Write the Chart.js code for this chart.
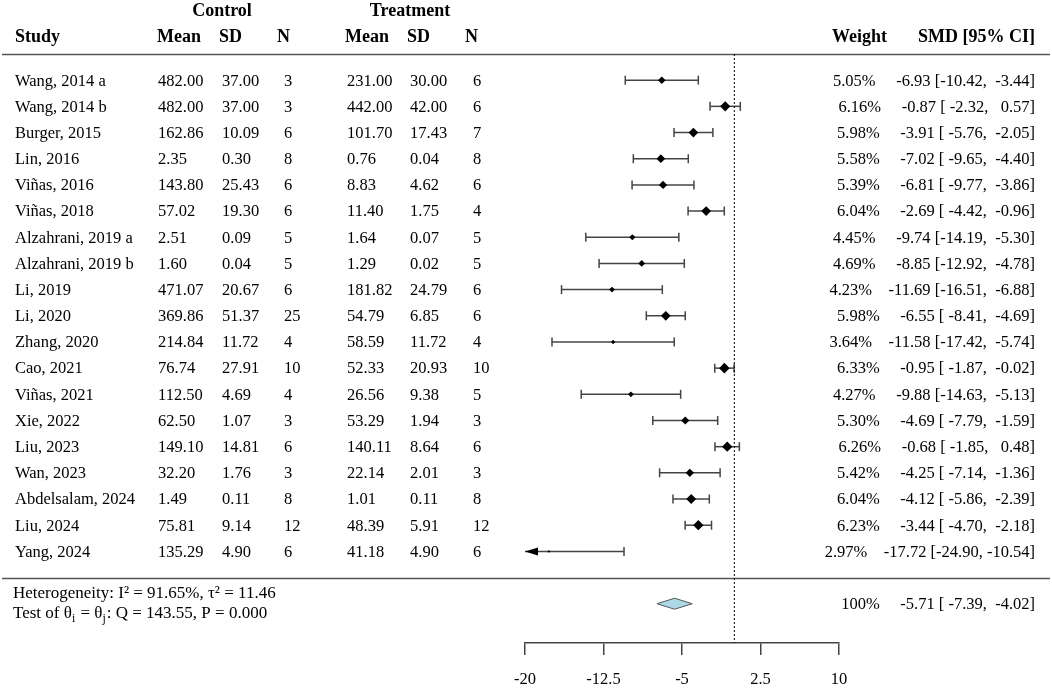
<!DOCTYPE html>
<html>
<head>
<meta charset="utf-8">
<script src="https://cdn.jsdelivr.net/npm/chart.js@4.4.1/dist/chart.umd.min.js"></script>
<style>
  html, body { margin: 0; padding: 0; background: #fff; }
  #wrap { width: 1052px; height: 689px; }
</style>
</head>
<body>
<div id="wrap"><canvas id="forest" width="1052" height="689"></canvas></div>
<script>
// Study table
const studies = ['Wang, 2014 a','Wang, 2014 b','Burger, 2015','Lin, 2016','Viñas, 2016','Viñas, 2018',
  'Alzahrani, 2019 a','Alzahrani, 2019 b','Li, 2019','Li, 2020','Zhang, 2020','Cao, 2021','Viñas, 2021',
  'Xie, 2022','Liu, 2023','Wan, 2023','Abdelsalam, 2024','Liu, 2024','Yang, 2024'];
const ctrlMean = [482.00,482.00,162.86,2.35,143.80,57.02,2.51,1.60,471.07,369.86,214.84,76.74,112.50,62.50,149.10,32.20,1.49,75.81,135.29];
const ctrlSD   = [37.00,37.00,10.09,0.30,25.43,19.30,0.09,0.04,20.67,51.37,11.72,27.91,4.69,1.07,14.81,1.76,0.11,9.14,4.90];
const ctrlN    = [3,3,6,8,6,6,5,5,6,25,4,10,4,3,6,3,8,12,6];
const trtMean  = [231.00,442.00,101.70,0.76,8.83,11.40,1.64,1.29,181.82,54.79,58.59,52.33,26.56,53.29,140.11,22.14,1.01,48.39,41.18];
const trtSD    = [30.00,42.00,17.43,0.04,4.62,1.75,0.07,0.02,24.79,6.85,11.72,20.93,9.38,1.94,8.64,2.01,0.11,5.91,4.90];
const trtN     = [6,6,7,8,6,4,5,5,6,6,4,10,5,3,6,3,8,12,6];
const weights  = [5.05,6.16,5.98,5.58,5.39,6.04,4.45,4.69,4.23,5.98,3.64,6.33,4.27,5.30,6.26,5.42,6.04,6.23,2.97];
const smd      = [-6.93,-0.87,-3.91,-7.02,-6.81,-2.69,-9.74,-8.85,-11.69,-6.55,-11.58,-0.95,-9.88,-4.69,-0.68,-4.25,-4.12,-3.44,-17.72];
const ciLow    = [-10.42,-2.32,-5.76,-9.65,-9.77,-4.42,-14.19,-12.92,-16.51,-8.41,-17.42,-1.87,-14.63,-7.79,-1.85,-7.14,-5.86,-4.70,-24.90];
const ciHigh   = [-3.44,0.57,-2.05,-4.40,-3.86,-0.96,-5.30,-4.78,-6.88,-4.69,-5.74,-0.02,-5.13,-1.59,0.48,-1.36,-2.39,-2.18,-10.54];

// pooled estimate
const overallSmd = -5.71;
const overallLow = -7.39;
const overallHigh = -4.02;

const tickValues = [-20, -12.5, -5, 2.5, 10];

const SERIF = '"Liberation Serif", "Times New Roman", serif';
const SUMMARY_ROW = 20;

const pad = (s, n) => s.padStart(n, ' ');
function rightText(w, e, lo, hi) {
  return w + '    ' + pad(e.toFixed(2), 6) + ' [' + pad(lo.toFixed(2), 6) + ', ' + pad(hi.toFixed(2), 6) + ']';
}

// bars, caps, arrow for clipped intervals, pooled diamond, rules
const forestPlugin = {
  id: 'forest',
  beforeDatasetsDraw(chart) {
    const { ctx, scales: { x, y } } = chart;
    ctx.save();
    // horizontal rules
    ctx.strokeStyle = '#555';
    ctx.lineWidth = 1.6;
    [ -1, studies.length ].forEach(v => {
      const py = Math.round(y.getPixelForValue(v)) + 0.5;
      ctx.beginPath(); ctx.moveTo(2, py); ctx.lineTo(1050, py); ctx.stroke();
    });

    ctx.strokeStyle = '#444';
    ctx.fillStyle = '#000';
    ctx.lineWidth = 1.5;
    studies.forEach((s, i) => {
      const py = y.getPixelForValue(i);
      const clipped = ciLow[i] < x.min;
      const x1 = x.getPixelForValue(Math.max(ciLow[i], x.min));
      const x2 = x.getPixelForValue(ciHigh[i]);
      ctx.beginPath(); ctx.moveTo(x1, py); ctx.lineTo(x2, py); ctx.stroke();
      ctx.beginPath(); ctx.moveTo(x2, py - 4.5); ctx.lineTo(x2, py + 4.5); ctx.stroke();
      if (clipped) {
        ctx.beginPath();
        ctx.moveTo(x1, py); ctx.lineTo(x1 + 13, py - 4); ctx.lineTo(x1 + 13, py + 4); ctx.closePath();
        ctx.fill();
      } else {
        ctx.beginPath(); ctx.moveTo(x1, py - 4.5); ctx.lineTo(x1, py + 4.5); ctx.stroke();
      }
    });

    // pooled diamond
    const sy = y.getPixelForValue(SUMMARY_ROW);
    ctx.beginPath();
    ctx.moveTo(x.getPixelForValue(overallLow), sy);
    ctx.lineTo(x.getPixelForValue(overallSmd), sy - 5.5);
    ctx.lineTo(x.getPixelForValue(overallHigh), sy);
    ctx.lineTo(x.getPixelForValue(overallSmd), sy + 5.5);
    ctx.closePath();
    ctx.fillStyle = '#add8e6';
    ctx.fill();
    ctx.strokeStyle = '#555';
    ctx.lineWidth = 1;
    ctx.stroke();
    ctx.restore();
  },
  afterDraw(chart) {
    const { ctx, scales: { y } } = chart;
    ctx.save();
    ctx.fillStyle = '#000';
    ctx.textBaseline = 'middle';

    // headers
    ctx.font = 'bold 18px ' + SERIF;
    ctx.textAlign = 'center';
    ctx.fillText('Control', 222, 11);
    ctx.fillText('Treatment', 410, 11);
    ctx.textAlign = 'left';
    ctx.fillText('Study', 15, 37);
    ctx.fillText('Mean', 157, 37);
    ctx.fillText('SD', 219, 37);
    ctx.fillText('N', 277, 37);
    ctx.fillText('Mean', 345, 37);
    ctx.fillText('SD', 407, 37);
    ctx.fillText('N', 465, 37);
    ctx.textAlign = 'right';
    ctx.fillText('Weight', 887, 37);
    ctx.fillText('SMD [95% CI]', 1035, 37);

    // rows
    ctx.font = '16.5px ' + SERIF;
    studies.forEach((s, i) => {
      const py = y.getPixelForValue(i) + 1;
      ctx.textAlign = 'left';
      ctx.fillText(s, 15, py);
      ctx.fillText(ctrlMean[i].toFixed(2), 158, py);
      ctx.fillText(ctrlSD[i].toFixed(2), 222, py);
      ctx.fillText(String(ctrlN[i]), 284, py);
      ctx.fillText(trtMean[i].toFixed(2), 347, py);
      ctx.fillText(trtSD[i].toFixed(2), 410, py);
      ctx.fillText(String(trtN[i]), 473, py);
      ctx.textAlign = 'right';
      ctx.fillText(rightText(weights[i].toFixed(2) + '%', smd[i], ciLow[i], ciHigh[i]), 1035, py);
    });
    const sy = y.getPixelForValue(SUMMARY_ROW) + 1;
    ctx.fillText(rightText('100%', overallSmd, overallLow, overallHigh), 1035, sy);

    // heterogeneity notes
    ctx.textAlign = 'left';
    ctx.font = '17px ' + SERIF;
    ctx.fillText('Heterogeneity: I² = 91.65%, τ² = 11.46', 13, 594);
    let px = 13;
    const ty = 614;
    const parts = [['Test of θ', 0], ['i', 1], [' = θ', 0], ['j', 1], [': Q = 143.55, P = 0.000', 0]];
    parts.forEach(([t, sub]) => {
      ctx.font = (sub ? '12px ' : '17px ') + SERIF;
      ctx.fillText(t, px, ty + (sub ? 5 : 0));
      px += ctx.measureText(t).width + (sub ? 1 : 0);
    });
    ctx.restore();
  }
};

const ctx = document.getElementById('forest').getContext('2d');
new Chart(ctx, {
  type: 'scatter',
  data: {
    datasets: [
      {
        // line of no effect
        type: 'line',
        data: [{ x: 0, y: -1 }, { x: 0, y: 21.5 }],
        borderColor: '#000',
        borderWidth: 1,
        borderDash: [2, 2],
        pointRadius: 0,
        order: 2
      },
      {
        data: studies.map((s, i) => ({ x: smd[i], y: i })),
        pointStyle: 'rectRot',
        pointRadius: weights.map(w => 1.4 + (w - 2.97) * 1.15),
        backgroundColor: '#000',
        borderColor: '#000',
        borderWidth: 0,
        order: 1
      }
    ]
  },
  options: {
    responsive: false,
    animation: false,
    events: [],
    layout: { padding: { left: 525, right: 213, top: 54, bottom: 0 } },
    plugins: { legend: { display: false }, tooltip: { enabled: false } },
    scales: {
      x: {
        type: 'linear',
        min: -20,
        max: 10,
        afterBuildTicks: (s) => { s.ticks = tickValues.map(v => ({ value: v })); },
        afterFit: (s) => { s.height = 46; },
        grid: { drawOnChartArea: false, drawTicks: true, tickLength: 12, tickColor: '#444', lineWidth: 1.5 },
        border: { display: true, color: '#444', width: 1.5 },
        ticks: {
          color: '#000',
          font: { family: SERIF, size: 16.5 },
          padding: 15,
          maxRotation: 0,
          autoSkip: false
        }
      },
      y: { type: 'linear', reverse: true, min: -1, max: 21.5, display: false }
    }
  },
  plugins: [forestPlugin]
});
</script>
</body>
</html>
